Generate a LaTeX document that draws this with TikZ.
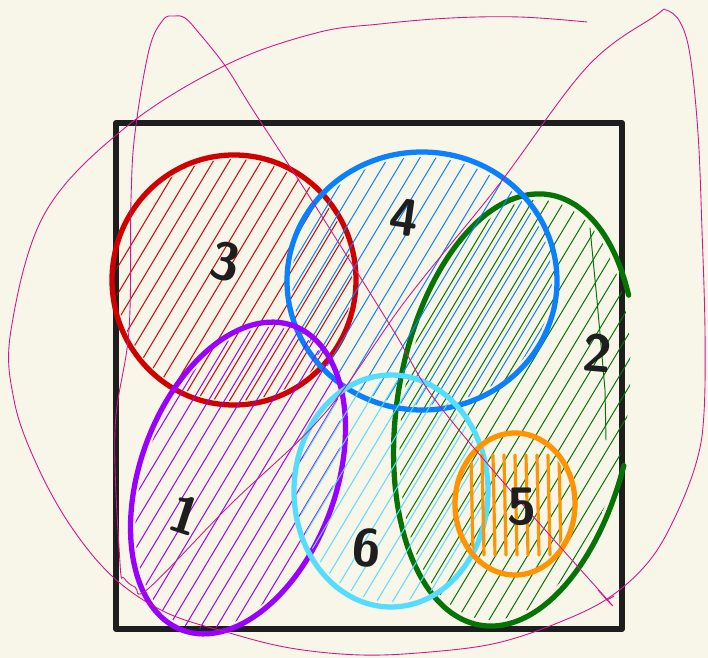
\documentclass[tikz,border=0pt]{standalone}
\usepackage{tikz}

\definecolor{paper}{HTML}{F8F5E9}
\definecolor{ink}{HTML}{1E1E1E}
\definecolor{redpen}{HTML}{D00000}
\definecolor{bluepen}{HTML}{0A80FF}
\definecolor{greenpen}{HTML}{057405}
\definecolor{purplepen}{HTML}{9A00FF}
\definecolor{cyanpen}{HTML}{55DDFF}
\definecolor{orangepen}{HTML}{FF9300}
\definecolor{magentapen}{HTML}{D2168C}

\tikzset{
  blobline/.style={line width=3pt,line cap=round,line join=round},
  hatch/.style={line width=0.55pt,line cap=round},
  framebox/.style={draw=ink,line width=3.4pt,line join=round},
  digit/.style={text=ink,font=\sffamily\bfseries\fontsize{30}{30}\selectfont,inner sep=0pt},
  scribble/.style={draw=magentapen,line width=0.5pt}
}

\newcommand\hatchblob[6]{%
  \begin{scope}
    \clip[rotate around={#5:(#1,#2)}] (#1,#2) ellipse [x radius=#3, y radius=#4];
    \foreach \k in {-300,-284,...,300}
      \draw[hatch,#6] ({#1+\k-150},{#2+250}) -- ++(300,-500);
  \end{scope}}

\begin{document}
\begin{tikzpicture}[x=0.02cm,y=-0.02cm]
\useasboundingbox[fill=paper] (0,0) rectangle (708,658);
\draw[framebox] (116,123) rectangle (622,629);

\hatchblob{515}{410}{112}{212}{-9}{greenpen}
\draw[hatch,greenpen] (590,228) -- (597,300) -- (605,390) -- (606,440);
\begin{scope}[shift={(515,410)},rotate=-9]
\draw[blobline,greenpen] plot[domain=10:323,samples=80,smooth] ({118*cos(\x)},{218*sin(\x)});
\end{scope}

\hatchblob{234}{280}{118}{121}{0}{redpen}
\draw[blobline,redpen] (234,280) ellipse [x radius=122, y radius=125];

\hatchblob{422}{281}{130}{124}{0}{bluepen}
\draw[blobline,bluepen] (422,281) ellipse [x radius=135, y radius=129];

\hatchblob{238}{478}{93}{157}{-20}{purplepen}
\draw[blobline,purplepen,rotate around={-20:(238,478)}] (238,478) ellipse [x radius=98, y radius=162];

\hatchblob{391}{491}{92}{111}{0}{cyanpen}
\draw[blobline,cyanpen] (391,491) ellipse [x radius=97, y radius=116];

\begin{scope}
  \clip (515,504) ellipse [x radius=56, y radius=67];
  \foreach \k in {-44,-33,...,44}
    \draw[orangepen,line width=1.8pt,line cap=round] ({515+\k},455) -- ({517+\k},555);
\end{scope}
\draw[blobline,orangepen] (515,504) ellipse [x radius=60, y radius=71];

\draw[scribble] plot[smooth,tension=0.6] coordinates {
  (587,22) (520,17) (451,18) (380,24) (316,33) (226,65) (126,127) (45,213)
  (11,330) (14,400) (36,463) (70,525) (113,577) (165,612) (226,632) (290,648)
  (361,655) (430,652) (497,643) (560,622) (610,597) (650,560) (677,513)
  (697,460) (704,413) (705,330) (702,230) (698,133) (690,55) (680,22) (666,10)
  (655,16) (587,67) (497,187) (406,300) (325,413) (230,505)
  (149,588) (135,587) (124,578) (120,563) (115,430) (129,330) (131,200)
  (135,133) (149,50) (163,20) (174,16) (185,18) (199,33) (226,67) (253,110)
  (316,207) (393,330) (433,397) (510,490) (605,597) (607,600)};
\draw[scribble] (598,590) -- (607,600) -- (614,596);

\node[digit,rotate=-12] (three) at (225,262) {3};
\node[digit,rotate=-8] (four) at (404,217) {4};
\node[digit,rotate=-5] (two) at (598,353) {2};
\node[digit,rotate=-18] (one) at (185,515) {1};
\node[digit,rotate=-6] (six) at (367,548) {6};
\node[digit] (five) at (522,507) {5};
\end{tikzpicture}
\end{document}
